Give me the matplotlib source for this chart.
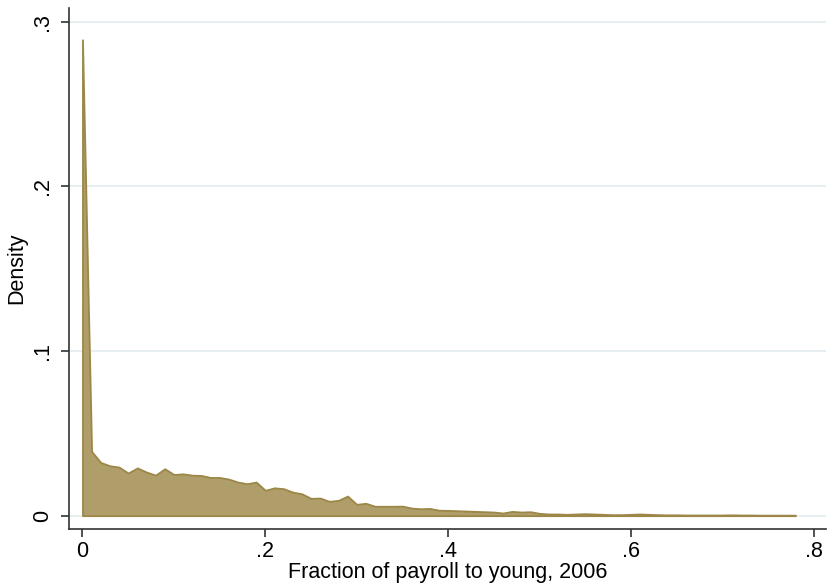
import numpy as np
import matplotlib
matplotlib.use("Agg")
import matplotlib.pyplot as plt

plt.rcParams['font.family'] = ['Liberation Sans', 'DejaVu Sans']

# bin positions (share of payroll) and density
frac = np.round(np.arange(0, 0.785, 0.01), 2)
density = [
    0.289, 0.039, 0.0323, 0.0303, 0.0295, 0.0259, 0.029, 0.0265, 0.0246, 0.0285,
    0.025, 0.0254, 0.0246, 0.0244, 0.0232, 0.0232, 0.0222, 0.0204, 0.0194, 0.0204,
    0.0154, 0.0169, 0.0164, 0.0143, 0.0133, 0.0105, 0.0107, 0.0087, 0.0093, 0.0119,
    0.0069, 0.0075, 0.0057, 0.0057, 0.0057, 0.0058, 0.0046, 0.0042, 0.0044, 0.0033,
    0.0032, 0.0030, 0.0028, 0.0026, 0.0024, 0.0022, 0.0016, 0.0026, 0.0022, 0.0024,
    0.0014, 0.0010, 0.0010, 0.0008, 0.0010, 0.0012, 0.0010, 0.0008, 0.0006, 0.0006,
    0.0008, 0.0010, 0.0008, 0.0006, 0.0005, 0.0005, 0.0004, 0.0004, 0.0004, 0.0004,
    0.0004, 0.0005, 0.0004, 0.0004, 0.0003, 0.0003, 0.0003, 0.0003, 0.0003,
]
xticks = [0, 0.2, 0.4, 0.6, 0.8]
xtick_labels = ['0', '.2', '.4', '.6', '.8']
yticks = [0, 0.1, 0.2, 0.3]
ytick_labels = ['0', '.1', '.2', '.3']

fig = plt.figure(figsize=(8.27, 5.88), dpi=100)
ax = fig.add_axes([0.0838, 0.0995, 0.9150, 0.8869])

ax.fill_between(frac, density, 0, facecolor='#b09e6a', edgecolor='#9c8748',
                linewidth=1.3, zorder=3)

ax.set_xlim(-0.0144, 0.8134)
ax.set_ylim(-0.0084, 0.3083)

ax.set_xticks(xticks)
ax.set_xticklabels(xtick_labels)
ax.set_yticks(yticks)
ax.set_yticklabels(ytick_labels, rotation=90, va='center')

ax.grid(axis='y', color='#e8eff2', linewidth=1.5, zorder=0)
ax.set_axisbelow(True)

for s in ['top', 'right']:
    ax.spines[s].set_visible(False)
for s in ['left', 'bottom']:
    ax.spines[s].set_color('#333333')
    ax.spines[s].set_linewidth(1.2)

ax.tick_params(axis='both', direction='out', length=6, width=1.2,
               color='#333333', labelsize=15.5)
ax.tick_params(axis='y', pad=6)
ax.tick_params(axis='x', pad=2)

ax.set_xlabel('Fraction of payroll to young, 2006', fontsize=15.5, labelpad=0)
ax.set_ylabel('Density', fontsize=15.5, labelpad=3)

fig.savefig('out.png', dpi=100, facecolor='white')
